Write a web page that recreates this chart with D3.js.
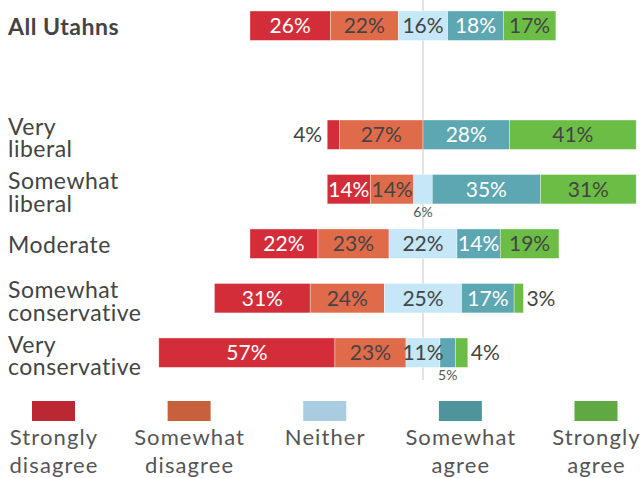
<!DOCTYPE html>
<html lang="en">
<head>
<meta charset="utf-8">
<title>Utahns by ideology</title>
<script src="https://d3js.org/d3.v7.min.js"></script>
<style>
 body { margin: 0; background: #fff; }
 text { font-family: Lato, "Open Sans", sans-serif; }
</style>
</head>
<body>
<script>
// Data
var categories = ["All Utahns", "Very liberal", "Somewhat liberal", "Moderate", "Somewhat conservative", "Very conservative"];
var categoryLines = [["All Utahns"], ["Very", "liberal"], ["Somewhat", "liberal"], ["Moderate"], ["Somewhat", "conservative"], ["Very", "conservative"]];
var seriesNames = ["Strongly disagree", "Somewhat disagree", "Neither", "Somewhat agree", "Strongly agree"];
var legendLines = [["Strongly", "disagree"], ["Somewhat", "disagree"], ["Neither"], ["Somewhat", "agree"], ["Strongly", "agree"]];
var strongDisagree = [26, 4, 14, 22, 31, 57];
var someDisagree   = [22, 27, 14, 23, 24, 23];
var neither        = [16, 0, 6, 22, 25, 11];
var someAgree      = [18, 28, 35, 14, 17, 5];
var strongAgree    = [17, 41, 31, 19, 3, 4];

var barColors = ["#d42d3a", "#e06b4a", "#c5e7f8", "#5ca7b1", "#6cbd46"];
var legendColors = ["#bb2733", "#c6603d", "#a9cce0", "#4f949b", "#5fa843"];
var textColors = ["#fff", "#444", "#444", "#fff", "#444"];

var width = 641, height = 478;
var cx = 423;

var svg = d3.select("body").append("svg")
    .attr("width", width)
    .attr("height", height);

var x = d3.scaleLinear().domain([-100, 100]).range([cx - 309, cx + 309]);

//Rows, with an empty slot after All Utahns
var y = d3.scaleBand()
    .domain([categories[0], "spacer"].concat(categories.slice(1)))
    .range([11, 367.4])
    .paddingInner(0.46)
    .paddingOuter(0);

var series = [strongDisagree, someDisagree, neither, someAgree, strongAgree];

//Build segments: start offset so that Neither is centred on zero
var segs = [];
categories.forEach(function (c, i) {
    var start = -(strongDisagree[i] + someDisagree[i] + neither[i] / 2);
    series.forEach(function (s, j) {
        segs.push({cat: c, row: i, k: j, v: s[i], x0: start, x1: start + s[i]});
        start += s[i];
    });
});

//centre line
svg.append("line")
    .attr("x1", x(0)).attr("x2", x(0))
    .attr("y1", 0).attr("y2", 380)
    .attr("stroke", "#d0d0d0")
    .attr("stroke-width", 1.2);

svg.append("g").selectAll("rect")
    .data(segs.filter(function (d) { return d.v > 0; }))
    .enter().append("rect")
    .attr("x", function (d) { return x(d.x0); })
    .attr("y", function (d) { return y(d.cat); })
    .attr("width", function (d) { return x(d.x1) - x(d.x0); })
    .attr("height", y.bandwidth())
    .attr("fill", function (d) { return barColors[d.k]; })
    .attr("stroke", "rgba(255,255,255,0.6)")
    .attr("stroke-width", 0.6);

// Value labels
var lab = svg.append("g");
segs.filter(function (d) { return d.v > 0; }).forEach(function (d) {
    var yc = y(d.cat) + y.bandwidth() / 2;
    var t = lab.append("text").text(d.v + "%");
    if (d.v > 6) {
        t.attr("x", (x(d.x0) + x(d.x1)) / 2).attr("y", yc + 7.5)
         .attr("text-anchor", "middle")
         .attr("font-size", 21)
         .attr("fill", textColors[d.k]);
    } else if (d.k === 0) {
        t.attr("x", x(d.x0) - 5).attr("y", yc + 7.5)
         .attr("text-anchor", "end").attr("font-size", 21).attr("fill", "#444");
    } else if (d.k === 4) {
        t.attr("x", x(d.x1) + 3).attr("y", yc + 7.5)
         .attr("text-anchor", "start").attr("font-size", 21).attr("fill", "#444");
    } else {
        t.attr("x", (x(d.x0) + x(d.x1)) / 2).attr("y", y(d.cat) + y.bandwidth() + 13)
         .attr("text-anchor", "middle").attr("font-size", 14).attr("fill", "#555");
    }
});

// Category labels
categories.forEach(function (c, i) {
    var lines = categoryLines[i];
    var yc = y(c) + y.bandwidth() / 2;
    var t = svg.append("text")
        .attr("x", 8)
        .attr("font-size", 23)
        .attr("letter-spacing", 0.5)
        .attr("fill", "#444")
        .attr("font-weight", i === 0 ? "bold" : "normal");
    lines.forEach(function (l, j) {
        t.append("tspan")
            .attr("x", 8)
            .attr("y", lines.length === 1 ? yc + 9 : yc + j * 22.4)
            .text(l);
    });
});

// Legend
var lx = d3.scalePoint().domain(seriesNames).range([53.5, 596]);
seriesNames.forEach(function (s, i) {
    svg.append("rect")
        .attr("x", lx(s) - 21.5).attr("y", 401)
        .attr("width", 43).attr("height", 20)
        .attr("fill", legendColors[i]);
    var t = svg.append("text")
        .attr("text-anchor", "middle")
        .attr("font-size", 22)
        .attr("letter-spacing", 1.1)
        .attr("fill", "#555");
    legendLines[i].forEach(function (l, j) {
        t.append("tspan").attr("x", lx(s) + 0.5).attr("y", 445 + j * 28).text(l);
    });
});
</script>
</body>
</html>
